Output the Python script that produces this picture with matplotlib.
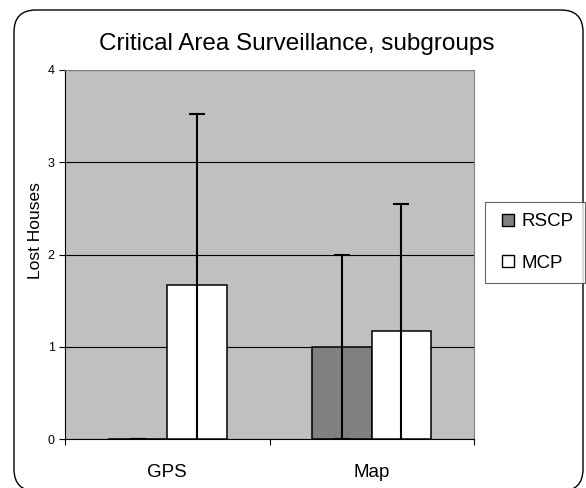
import numpy as np
import matplotlib
matplotlib.use("Agg")
import matplotlib.pyplot as plt
from matplotlib.patches import FancyBboxPatch
from matplotlib.lines import Line2D

plt.rcParams['font.family'] = ['Liberation Sans', 'DejaVu Sans']

# data
categories = ['GPS', 'Map']
series_names = ['RSCP', 'MCP']
rscp_vals = [0.0, 1.0]
rscp_err = [0.0, 1.0]
mcp_vals = [1.67, 1.17]
mcp_err = [1.85, 1.38]
y_ticks = [0, 1, 2, 3, 4]

fig = plt.figure(figsize=(5.86, 4.88), dpi=100)

# rounded chart border
frame = FancyBboxPatch((0.14, -0.03), 5.69, 4.81,
                       boxstyle="round,pad=0,rounding_size=0.22",
                       transform=fig.dpi_scale_trans, facecolor='none',
                       edgecolor='black', linewidth=1.0, zorder=0)
fig.patches.append(frame)

ax = fig.add_axes([65 / 586, 1 - 439 / 488, 409 / 586, 369 / 488])
ax.set_facecolor('#c0c0c0')

x = np.arange(len(categories))
w = 0.29
ax.bar(x - w / 2, rscp_vals, w, color='#808080', edgecolor='black',
       linewidth=1.1, zorder=3)
ax.bar(x + w / 2, mcp_vals, w, color='white', edgecolor='black',
       linewidth=1.1, zorder=3)
# symmetric error bars, lower part runs down to the axis
ax.errorbar(x - w / 2, rscp_vals, yerr=rscp_err, fmt='none', ecolor='black',
            elinewidth=1.5, capsize=5.5, capthick=1.5, zorder=4)
ax.errorbar(x + w / 2, mcp_vals, yerr=mcp_err, fmt='none', ecolor='black',
            elinewidth=1.5, capsize=5.5, capthick=1.5, zorder=4)

ax.set_xlim(-0.5, len(categories) - 0.5)
ax.set_ylim(0, 4)
ax.set_yticks(y_ticks)
ax.set_yticklabels([str(t) for t in y_ticks], fontsize=9)
ax.yaxis.grid(True, color='black', linewidth=0.8, zorder=1)
ax.set_axisbelow(True)

# category boundaries as ticks, names in between
ax.set_xticks(np.arange(len(categories) + 1) - 0.5)
ax.set_xticklabels([])
ax.set_xticks(x, minor=True)
ax.set_xticklabels(categories, minor=True, fontsize=13.5)
ax.tick_params(axis='x', which='minor', length=0, pad=18)
ax.tick_params(axis='both', which='major', length=4, width=0.8,
               direction='out', color='black')

ax.spines['left'].set_color('black')
ax.spines['bottom'].set_color('black')
ax.spines['top'].set_color('#808080')
ax.spines['right'].set_color('#808080')

ax.set_ylabel('Lost Houses', fontsize=12.5)
ax.yaxis.set_label_coords(-0.055, 0.564)

fig.text(297 / 586, 1 - 44 / 488, 'Critical Area Surveillance, subgroups',
         ha='center', va='center', fontsize=17.5)

handles = [Line2D([], [], linestyle='none', marker='s', markersize=8.5,
                  markerfacecolor='#808080', markeredgecolor='black',
                  markeredgewidth=1.0),
           Line2D([], [], linestyle='none', marker='s', markersize=8.5,
                  markerfacecolor='white', markeredgecolor='black',
                  markeredgewidth=1.0)]
leg = fig.legend(handles, series_names, loc='upper left',
                 bbox_to_anchor=(485 / 586, 1 - 202 / 488), fontsize=13.5,
                 frameon=True, fancybox=False, handlelength=1.2,
                 handletextpad=0.15, labelspacing=1.3,
                 borderpad=0.6, borderaxespad=0)
leg.get_frame().set_edgecolor('#404040')
leg.get_frame().set_linewidth(0.8)

fig.savefig('out.png', dpi=100)
